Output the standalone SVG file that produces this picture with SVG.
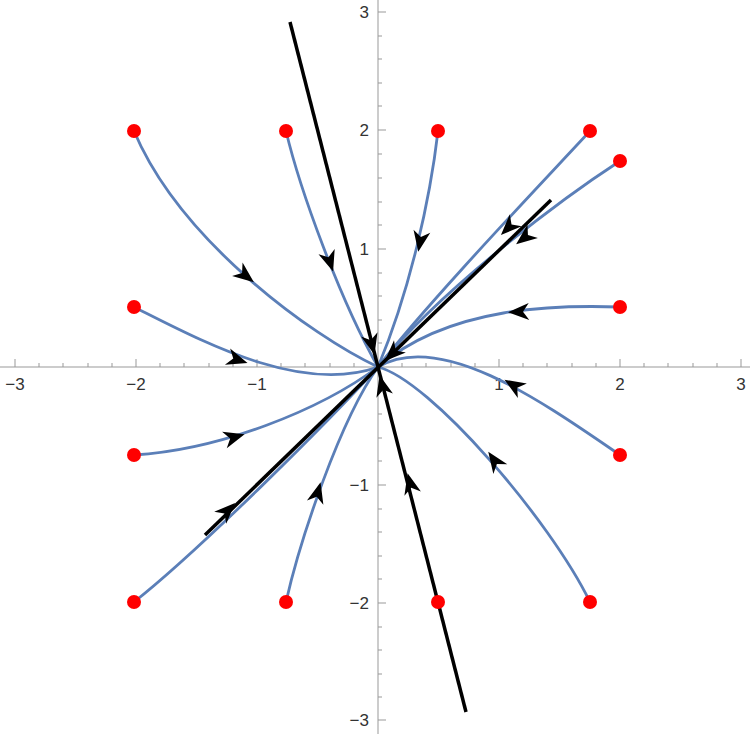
<svg xmlns="http://www.w3.org/2000/svg" width="750" height="734" viewBox="0 0 750 734">
<style>
.ax{stroke:#999;stroke-width:1;fill:none}
.t{font-family:"Liberation Sans",Arial,sans-serif;font-size:17px;fill:#333}
.c{stroke:#5b7fb8;stroke-width:2.8;fill:none}
.b{stroke:#000;stroke-width:3.5;fill:none}
.d{fill:#ff0000}
</style>
<defs><path id="ah" d="M10,0 L-11,-8.5 L-5,0 L-11,8.5 Z" fill="#000"/></defs>
<rect width="750" height="734" fill="#fff"/>
<g id="axes">
<line class="ax" x1="0" y1="367" x2="750" y2="367"/>
<line class="ax" x1="378" y1="0" x2="378" y2="734"/>
<path class="ax" d="M15,367v-8M136,367v-8M257,367v-8M499,367v-8M620,367v-8M741,367v-8M378,12h8M378,130h8M378,249h8M378,485h8M378,603h8M378,720h8"/>
<path class="ax" d="M39,367v-4M63,367v-4M88,367v-4M112,367v-4M160,367v-4M184,367v-4M209,367v-4M233,367v-4M281,367v-4M305,367v-4M330,367v-4M354,367v-4M402,367v-4M426,367v-4M451,367v-4M475,367v-4M523,367v-4M547,367v-4M572,367v-4M596,367v-4M644,367v-4M668,367v-4M693,367v-4M717,367v-4M378,36h4M378,59h4M378,83h4M378,106h4M378,154h4M378,178h4M378,202h4M378,225h4M378,273h4M378,296h4M378,320h4M378,343h4M378,391h4M378,414h4M378,438h4M378,461h4M378,509h4M378,532h4M378,556h4M378,579h4M378,627h4M378,650h4M378,674h4M378,697h4"/>
<text class="t" x="15" y="390" text-anchor="middle">−3</text>
<text class="t" x="136" y="390" text-anchor="middle">−2</text>
<text class="t" x="257" y="390" text-anchor="middle">−1</text>
<text class="t" x="499" y="390" text-anchor="middle">1</text>
<text class="t" x="620" y="390" text-anchor="middle">2</text>
<text class="t" x="741" y="390" text-anchor="middle">3</text>
<text class="t" x="369" y="18" text-anchor="end">3</text>
<text class="t" x="369" y="136" text-anchor="end">2</text>
<text class="t" x="369" y="255" text-anchor="end">1</text>
<text class="t" x="369" y="491" text-anchor="end">−1</text>
<text class="t" x="369" y="609" text-anchor="end">−2</text>
<text class="t" x="369" y="726" text-anchor="end">−3</text>
</g>
<g id="connectors">
<path class="c" d="M134,131 C180,240 310,335 378,367"/>
<path class="c" d="M286,131 C300,190 340,300 378,367"/>
<path class="c" d="M438,131 C430,200 410,290 378,367"/>
<path class="c" d="M590,131 C540,185 430,300 378,367"/>
<path class="c" d="M620,161 C560,200 440,290 378,367"/>
<path class="c" d="M620,307 C560,305 450,305 378,367"/>
<path class="c" d="M134,307 C200,340 300,395 378,367"/>
<path class="c" d="M134,455 C220,450 320,410 378,367"/>
<path class="c" d="M620,455 C540,400 440,330 378,367"/>
<path class="c" d="M134,602 C200,550 330,420 378,367"/>
<path class="c" d="M286,602 C300,540 340,420 378,367"/>
<path class="c" d="M590,602 C550,520 430,380 378,367"/>
<line class="b" x1="290" y1="22" x2="466" y2="712"/>
<line class="b" x1="205" y1="535" x2="551" y2="200"/>
<use href="#ah" transform="translate(246,276) rotate(38)"/>
<use href="#ah" transform="translate(330,262) rotate(72)"/>
<use href="#ah" transform="translate(420,242) rotate(100)"/>
<use href="#ah" transform="translate(508,228) rotate(135)"/>
<use href="#ah" transform="translate(524,238) rotate(142)"/>
<use href="#ah" transform="translate(518,312) rotate(178)"/>
<use href="#ah" transform="translate(238,360) rotate(18)"/>
<use href="#ah" transform="translate(235,437) rotate(-16)"/>
<use href="#ah" transform="translate(513,385) rotate(212)"/>
<use href="#ah" transform="translate(228,510) rotate(-45)"/>
<use href="#ah" transform="translate(318,492) rotate(-75)"/>
<use href="#ah" transform="translate(494,460) rotate(-125)"/>
<use href="#ah" transform="translate(372,345) rotate(75.7)"/>
<use href="#ah" transform="translate(410,483) rotate(-104)"/>
<use href="#ah" transform="translate(382,385) rotate(-104)"/>
<use href="#ah" transform="translate(392,354) rotate(136)"/>
</g>
<g id="points">
<circle class="d" cx="134" cy="131" r="7"/><circle class="d" cx="286" cy="131" r="7"/>
<circle class="d" cx="438" cy="131" r="7"/><circle class="d" cx="590" cy="131" r="7"/>
<circle class="d" cx="620" cy="161" r="7"/><circle class="d" cx="620" cy="307" r="7"/>
<circle class="d" cx="134" cy="307" r="7"/><circle class="d" cx="134" cy="455" r="7"/>
<circle class="d" cx="620" cy="455" r="7"/><circle class="d" cx="134" cy="602" r="7"/>
<circle class="d" cx="286" cy="602" r="7"/><circle class="d" cx="438" cy="602" r="7"/>
<circle class="d" cx="590" cy="602" r="7"/>
</g>
</svg>
